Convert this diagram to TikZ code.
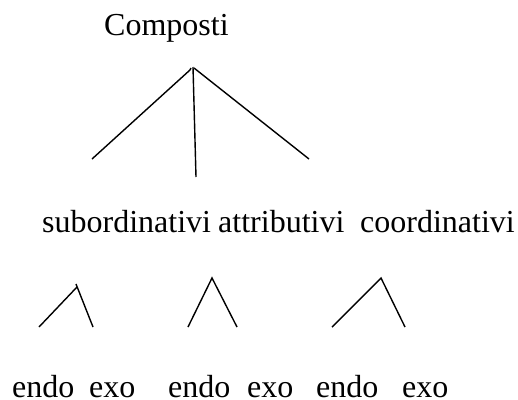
\documentclass[tikz,border=0pt]{standalone}
\usepackage{fontspec}
\setmainfont{Liberation Serif}
\begin{document}
\begin{tikzpicture}[x=1pt,y=-1pt,
  label/.style={anchor=base west,inner sep=0pt,font=\fontsize{32}{36}\selectfont},
  branch/.style={line width=1.4pt,line cap=butt}]
\useasboundingbox (0,0) rectangle (518,399);

% labels
\node[label] (comp) at (104,35) {Composti};
\node[label] (sub)  at (42,232)  {subordinativi};
\node[label] (att)  at (218,232) {attributivi};
\node[label] (coo)  at (360,232) {coordinativi};
\node[label] (en1)  at (12,397)  {endo};
\node[label] (ex1)  at (89,397)  {exo};
\node[label] (en2)  at (168,397) {endo};
\node[label] (ex2)  at (247,397) {exo};
\node[label] (en3)  at (316,397) {endo};
\node[label] (ex3)  at (402,397) {exo};

% top fork
\coordinate (topL) at (190,70);
\coordinate (topH) at (191,68);
\coordinate (topV) at (193,67);
\coordinate (topR) at (194,68);
\coordinate (footL) at (92,159);
\coordinate (footV) at (196,177);
\coordinate (footR) at (309,159);
\draw[branch] (footL) -- (topL) -- (topH);
\draw[branch] (topV) -- (footV);
\draw[branch] (topR) -- (footR);

% small forks
\coordinate (a1) at (77,287);
\coordinate (a1r) at (76,284);
\coordinate (l1) at (39,327);
\coordinate (r1) at (93,327);
\draw[branch] (l1) -- (a1);
\draw[branch] (a1r) -- (r1);

\coordinate (a2) at (212,278);
\coordinate (l2) at (188,327);
\coordinate (r2) at (237,327);
\draw[branch] (l2) -- (a2) -- (r2);

\coordinate (a3) at (381,278);
\coordinate (l3) at (332,327);
\coordinate (r3) at (405,327);
\draw[branch] (l3) -- (a3) -- (r3);
\end{tikzpicture}
\end{document}
